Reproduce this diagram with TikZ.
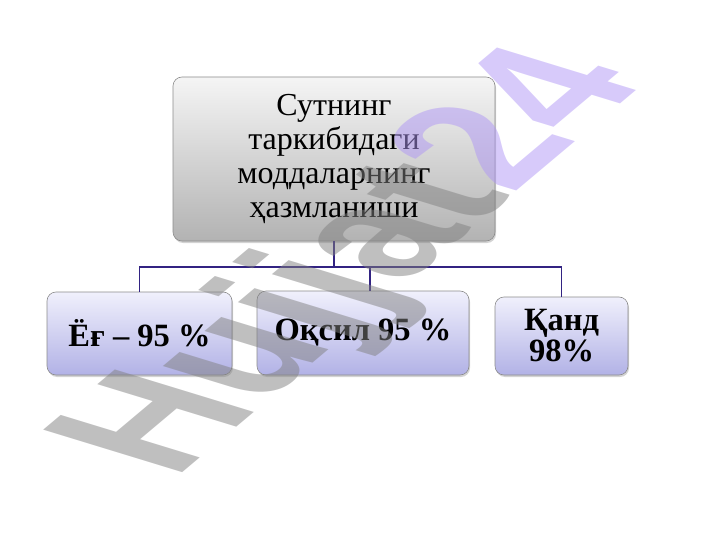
\documentclass[tikz,border=0pt]{standalone}
\usepackage{fontspec}
\setmainfont{Liberation Serif}
\newfontfamily\stampfont{Liberation Sans}
\usetikzlibrary{shadows}

\definecolor{linkblue}{RGB}{50,35,130}
\definecolor{leaftop}{RGB}{240,240,252}
\definecolor{leafbottom}{RGB}{178,178,230}
\definecolor{stampgray}{RGB}{128,128,128}
\definecolor{stamplilac}{RGB}{175,150,245}

\begin{document}
\begin{tikzpicture}[x=1pt,y=-1pt]
  \tikzset{
    box/.style={draw=black!45, line width=0.6pt, rounded corners=9pt,
      align=center, inner sep=0pt,
      drop shadow={shadow xshift=1pt, shadow yshift=-2pt, opacity=0.35}},
    head box/.style={box, top color=black!4, bottom color=black!30,
      font=\fontsize{32}{34}\selectfont},
    leaf box/.style={box, top color=leaftop, bottom color=leafbottom,
      font=\fontsize{32.5}{31}\selectfont\bfseries},
    link/.style={draw=linkblue, line width=1.8pt},
    stamp/.style={transform shape, inner sep=0pt, text opacity=0.5,
      font=\stampfont\bfseries\fontsize{236}{236}\selectfont}
  }
  \path[use as bounding box] (0,0) rectangle (720,540);

  \node[head box, minimum width=322pt, minimum height=164pt] (head) at (334,159)
    {Сутнинг\\таркибидаги\\моддаларнинг\\ҳазмланиши};
  \node[leaf box, minimum width=185pt, minimum height=83pt] (fat) at (139.5,333.5)
    {Ёғ – 95 \%};
  \node[leaf box, minimum width=212pt, minimum height=84pt] (protein) at (363,333)
    {Оқсил 95 \%};
  \node[leaf box, minimum width=133pt, minimum height=78pt] (sugar) at (561.5,336)
    {Қанд\\98\%};

  \foreach \leaf/\dx in {fat/0, protein/7, sugar/0}
    \draw[link] (head.south) -- ++(0,26) -| ([xshift=\dx pt]\leaf.north);

  \begin{scope}[shift={(359,264)}, yscale=0.507, rotate=58.9]
    \node[stamp] (mark) at (0,0)
      {\textcolor{stampgray}{Hujjat}\textcolor{stamplilac}{24}};
  \end{scope}
\end{tikzpicture}
\end{document}
